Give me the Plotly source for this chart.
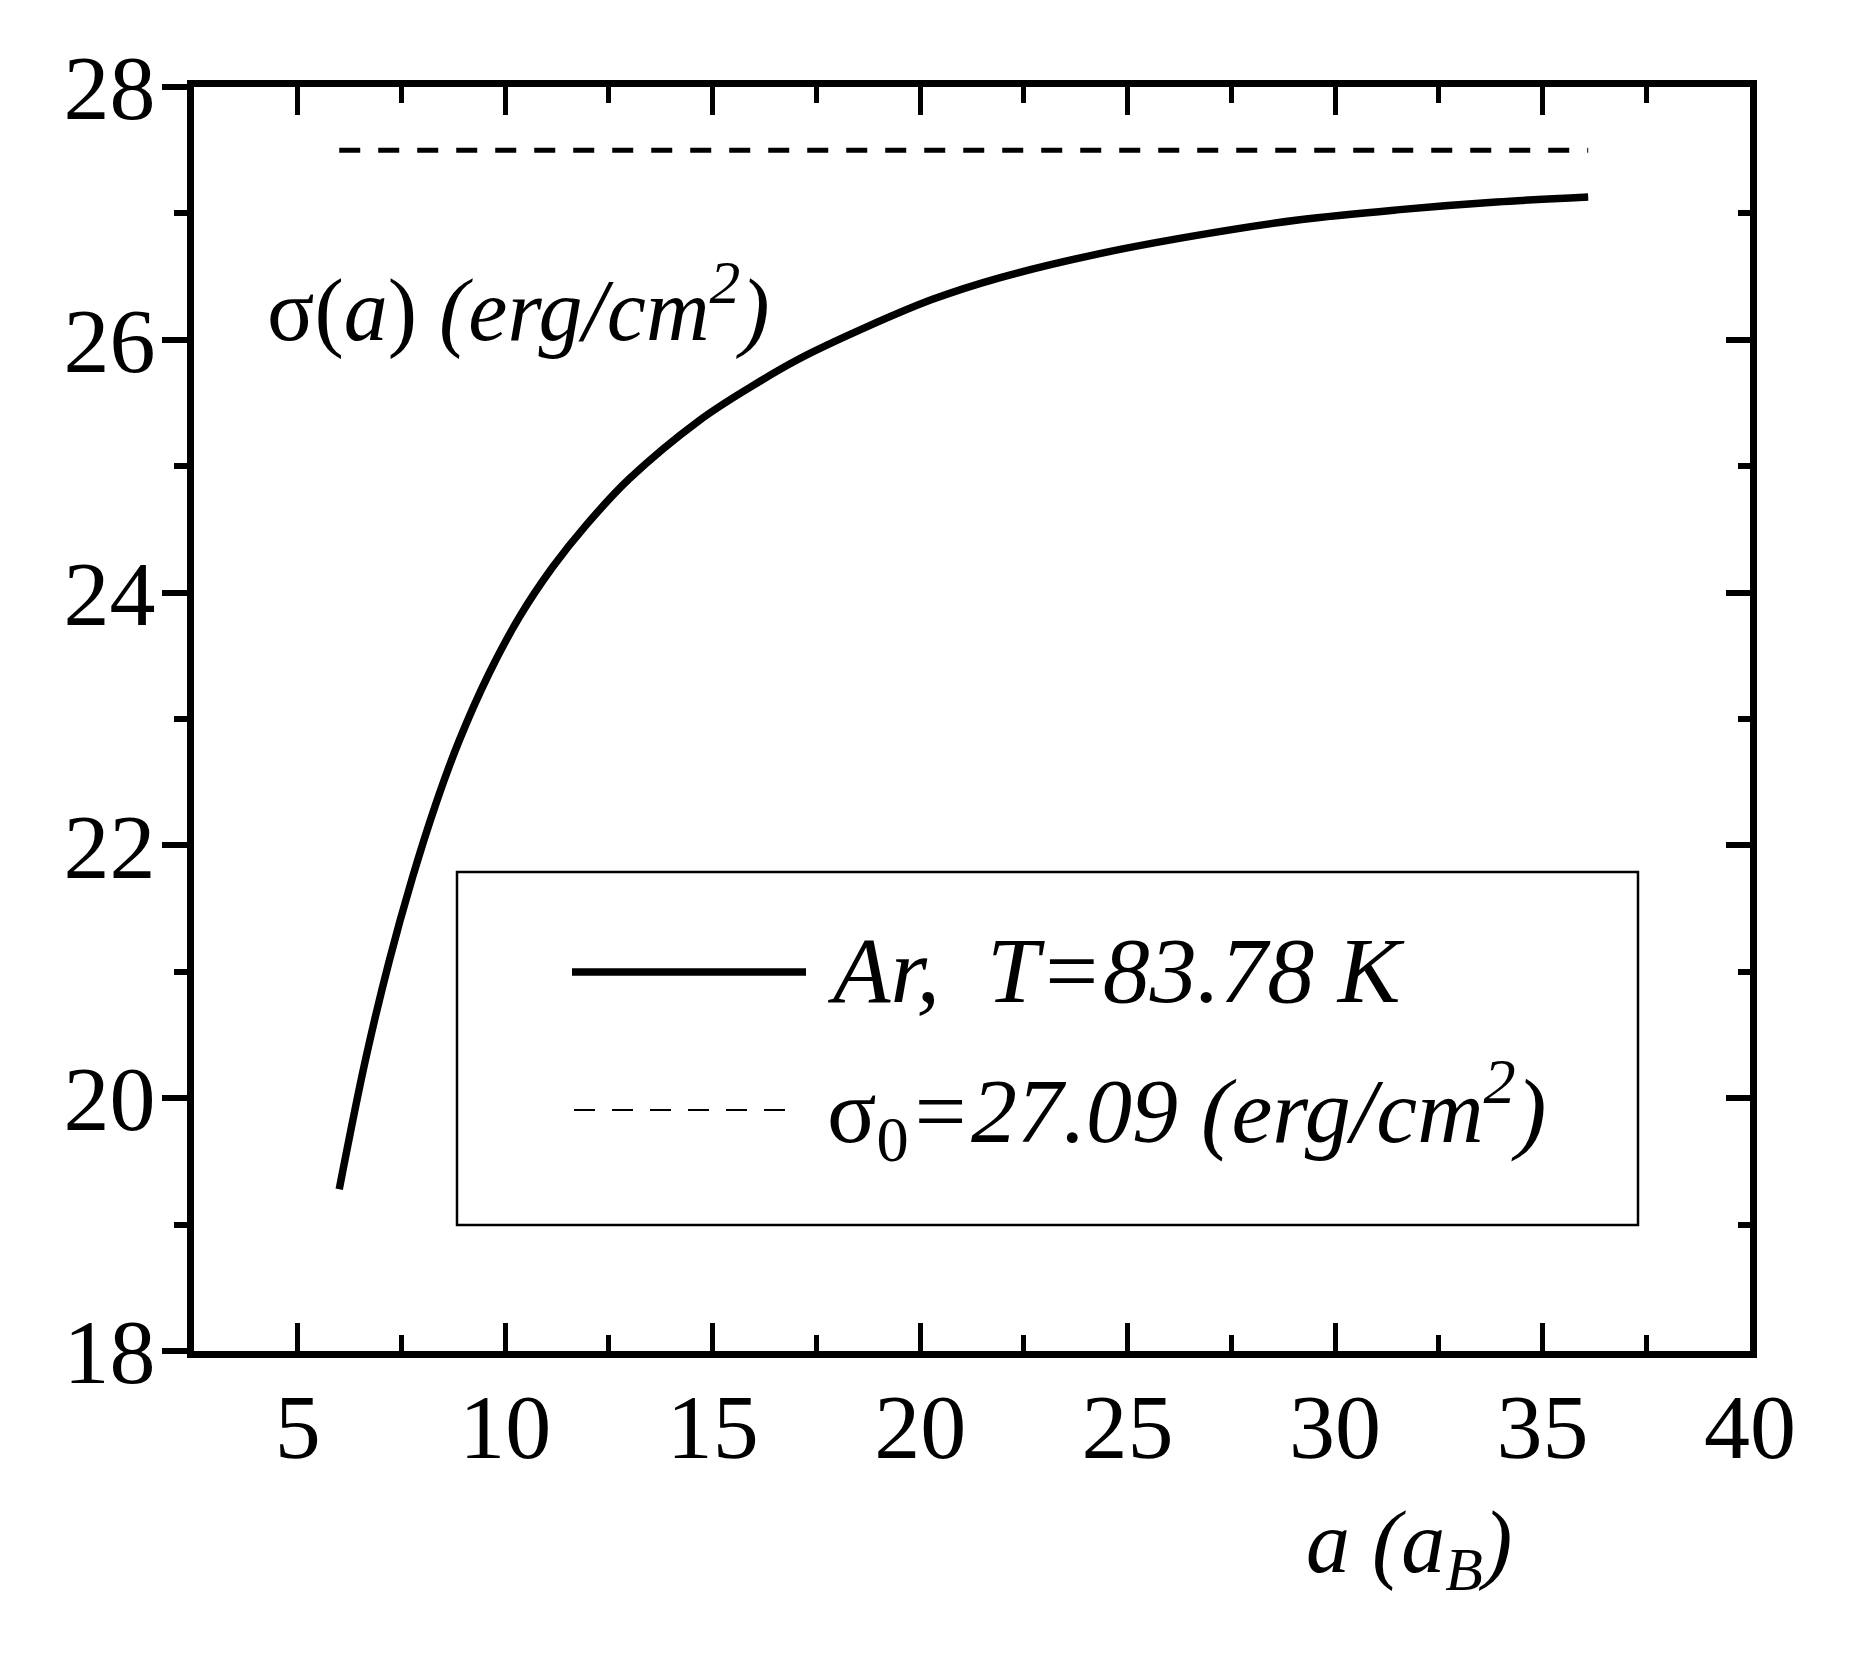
import plotly.graph_objects as go

# ---- data ----
a_vals = [6.0, 6.63, 7.2, 7.76, 8.32, 8.88, 9.61, 10.33, 11.14, 11.94, 12.99, 14.67,
          15.88, 17.09, 18.7, 20.3, 21.91, 24.3, 26.74, 29.15, 31.56, 33.89, 36.1]
sigma_vals = [19.28, 20.30, 21.08, 21.74, 22.32, 22.82, 23.36, 23.80, 24.20, 24.53, 24.90, 25.36,
              25.62, 25.85, 26.10, 26.32, 26.49, 26.68, 26.83, 26.95, 27.03, 27.09, 27.13]
ref_a = [6.0, 36.1]
ref_sigma = [27.5, 27.5]
x_ticks = [5, 10, 15, 20, 25, 30, 35, 40]
y_ticks = [18, 20, 22, 24, 26, 28]

X_RANGE = [2.5, 40]
Y_RANGE = [18, 28]

FONT = "Liberation Serif"
W, H = 1845, 1643
OFF = 8  # body margin in the page
# plot area in page pixels
PL, PR, PT, PB = 194, 1750, 87, 1351


def px(xp):
    return (xp - PL) / (PR - PL)


def py(yp):
    return (PB - yp) / (PB - PT)


fig = go.Figure()

fig.add_trace(go.Scatter(
    x=a_vals, y=sigma_vals, mode="lines",
    line=dict(color="black", width=7.5, shape="spline", smoothing=1.0),
    showlegend=False, hoverinfo="skip"))

fig.add_trace(go.Scatter(
    x=ref_a, y=ref_sigma, mode="lines", yaxis="y2",
    line=dict(color="black", width=5, dash="21px,18px"),
    showlegend=False, hoverinfo="skip"))

tickfont = dict(family=FONT, size=92, color="black")

fig.update_layout(
    width=W, height=H,
    margin=dict(l=PL - OFF, r=W - (PR - OFF), t=PT - OFF, b=H - (PB - OFF)),
    paper_bgcolor="white", plot_bgcolor="white",
    showlegend=False,
    xaxis=dict(range=X_RANGE, tickvals=x_ticks, ticks="inside", ticklen=28, tickwidth=5,
               tickcolor="black", showline=True, linewidth=7, linecolor="black",
               mirror="ticks", showgrid=False, zeroline=False, tickfont=tickfont,
               ticklabelstandoff=-10,
               minor=dict(tick0=0, dtick=2.5, ticks="inside", ticklen=16, tickwidth=5,
                          tickcolor="black", showgrid=False)),
    yaxis=dict(range=Y_RANGE, tickvals=y_ticks, ticks="outside", ticklen=25, tickwidth=6,
               tickcolor="black", showline=True, linewidth=7, linecolor="black",
               mirror=False, showgrid=False, zeroline=False, tickfont=tickfont,
               ticklabelstandoff=-12,
               minor=dict(tick0=18, dtick=1, ticks="outside", ticklen=13, tickwidth=6,
                          tickcolor="black", showgrid=False)),
    yaxis2=dict(range=Y_RANGE, overlaying="y", side="right", tickvals=y_ticks,
                ticks="inside", ticklen=24, tickwidth=6, tickcolor="black",
                showline=True, linewidth=7, linecolor="black", showticklabels=False,
                showgrid=False, zeroline=False,
                minor=dict(tick0=18, dtick=1, ticks="inside", ticklen=12, tickwidth=6,
                           tickcolor="black", showgrid=False)),
)

# legend drawn manually
shapes = [
    dict(type="rect", xref="paper", yref="paper", x0=px(457), x1=px(1638),
         y0=py(1225), y1=py(872), line=dict(color="black", width=2.5), fillcolor="rgba(0,0,0,0)"),
    dict(type="line", xref="paper", yref="paper", x0=px(572), x1=px(806),
         y0=py(972), y1=py(972), line=dict(color="black", width=7.5)),
    dict(type="line", xref="paper", yref="paper", x0=px(574), x1=px(796),
         y0=py(1110), y1=py(1110), line=dict(color="black", width=2, dash="21px,17px")),
]
fig.update_layout(shapes=shapes)

annots = [
    dict(text="<i>Ar,\u00a0\u00a0T=83.78\u00a0K</i>", x=px(825), y=py(970),
         xanchor="left", yanchor="middle", size=94),
    dict(text="σ<sub>0</sub><i>=27.09 (erg/cm<sup>2</sup>)</i>", x=px(825), y=py(1110),
         xanchor="left", yanchor="middle", size=92),
    dict(text="σ(<i>a</i>) <i>(erg/cm<sup>2</sup>)</i>", x=px(265), y=py(303),
         xanchor="left", yanchor="middle", size=88),
    dict(text="<i>a (a<sub>B</sub>)</i>", x=px(1304), y=py(1548),
         xanchor="left", yanchor="middle", size=88),
]
for an in annots:
    fig.add_annotation(text=an["text"], x=an["x"], y=an["y"], xref="paper", yref="paper",
                       xanchor=an["xanchor"], yanchor=an["yanchor"], showarrow=False,
                       font=dict(family=FONT, size=an["size"], color="black"))

fig.write_html("out.html")
